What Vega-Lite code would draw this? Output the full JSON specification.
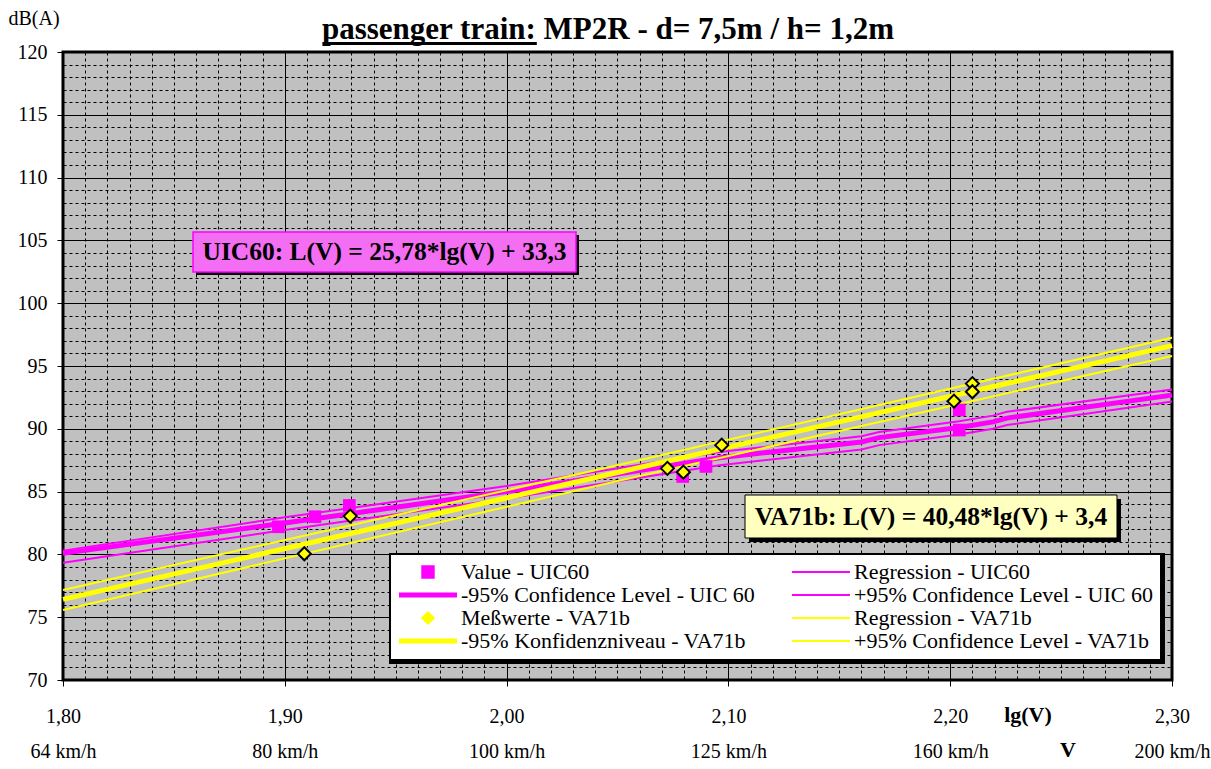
{
  "$schema": "https://vega.github.io/schema/vega-lite/v6.json",
  "width": 1109,
  "height": 628,
  "autosize": {"type": "none"},
  "padding": {"left": 63, "top": 52, "right": 39, "bottom": 89},
  "background": "white",
  "config": {
    "font": "Liberation Serif",
    "view": {"fill": "#C0C0C0", "stroke": "#000000", "strokeWidth": 3}
  },
  "datasets": {
    "uicValues": [
      {"series": "Value - UIC60", "lg": 1.8971, "db": 82.2},
      {"series": "Value - UIC60", "lg": 1.9136, "db": 83.0},
      {"series": "Value - UIC60", "lg": 1.9291, "db": 83.9},
      {"series": "Value - UIC60", "lg": 2.0794, "db": 86.2},
      {"series": "Value - UIC60", "lg": 2.0899, "db": 87.0},
      {"series": "Value - UIC60", "lg": 2.2041, "db": 91.5},
      {"series": "Value - UIC60", "lg": 2.2041, "db": 89.9}
    ],
    "vaValues": [
      {"series": "Meßwerte - VA71b", "lg": 1.9088, "db": 80.05},
      {"series": "Meßwerte - VA71b", "lg": 1.9295, "db": 83.05},
      {"series": "Meßwerte - VA71b", "lg": 2.0725, "db": 86.85},
      {"series": "Meßwerte - VA71b", "lg": 2.0797, "db": 86.55},
      {"series": "Meßwerte - VA71b", "lg": 2.097, "db": 88.7},
      {"series": "Meßwerte - VA71b", "lg": 2.2017, "db": 92.2},
      {"series": "Meßwerte - VA71b", "lg": 2.21, "db": 93.6},
      {"series": "Meßwerte - VA71b", "lg": 2.21, "db": 92.95}
    ],
    "uicThin": [
      {"series": "Regression - UIC60", "lg": 1.8, "db": 79.34},
      {"series": "Regression - UIC60", "lg": 1.9, "db": 81.95},
      {"series": "Regression - UIC60", "lg": 2.0, "db": 84.45},
      {"series": "Regression - UIC60", "lg": 2.096, "db": 87.1},
      {"series": "Regression - UIC60", "lg": 2.16, "db": 88.35},
      {"series": "Regression - UIC60", "lg": 2.168, "db": 88.7},
      {"series": "Regression - UIC60", "lg": 2.204, "db": 89.55},
      {"series": "Regression - UIC60", "lg": 2.2193, "db": 90.0},
      {"series": "Regression - UIC60", "lg": 2.2256, "db": 90.3},
      {"series": "Regression - UIC60", "lg": 2.3, "db": 92.18},
      {"series": "+95% Confidence Level - UIC 60", "lg": 1.8, "db": 80.3},
      {"series": "+95% Confidence Level - UIC 60", "lg": 1.9, "db": 82.95},
      {"series": "+95% Confidence Level - UIC 60", "lg": 2.0, "db": 85.45},
      {"series": "+95% Confidence Level - UIC 60", "lg": 2.096, "db": 88.15},
      {"series": "+95% Confidence Level - UIC 60", "lg": 2.16, "db": 89.4},
      {"series": "+95% Confidence Level - UIC 60", "lg": 2.168, "db": 89.75},
      {"series": "+95% Confidence Level - UIC 60", "lg": 2.204, "db": 90.6},
      {"series": "+95% Confidence Level - UIC 60", "lg": 2.2193, "db": 91.05},
      {"series": "+95% Confidence Level - UIC 60", "lg": 2.2256, "db": 91.35},
      {"series": "+95% Confidence Level - UIC 60", "lg": 2.3, "db": 93.12}
    ],
    "uicThick": [
      {"series": "-95% Confidence Level - UIC 60", "lg": 1.8, "db": 80.08},
      {"series": "-95% Confidence Level - UIC 60", "lg": 1.9, "db": 82.5},
      {"series": "-95% Confidence Level - UIC 60", "lg": 2.0, "db": 85.0},
      {"series": "-95% Confidence Level - UIC 60", "lg": 2.096, "db": 87.7},
      {"series": "-95% Confidence Level - UIC 60", "lg": 2.16, "db": 88.95},
      {"series": "-95% Confidence Level - UIC 60", "lg": 2.168, "db": 89.3},
      {"series": "-95% Confidence Level - UIC 60", "lg": 2.204, "db": 90.1},
      {"series": "-95% Confidence Level - UIC 60", "lg": 2.2193, "db": 90.55},
      {"series": "-95% Confidence Level - UIC 60", "lg": 2.2256, "db": 90.85},
      {"series": "-95% Confidence Level - UIC 60", "lg": 2.3, "db": 92.68}
    ],
    "vaThin": [
      {"series": "Regression - VA71b", "lg": 1.8, "db": 75.57},
      {"series": "Regression - VA71b", "lg": 2.05, "db": 85.85},
      {"series": "Regression - VA71b", "lg": 2.3, "db": 95.8},
      {"series": "+95% Confidence Level - VA71b", "lg": 1.8, "db": 77.17},
      {"series": "+95% Confidence Level - VA71b", "lg": 2.05, "db": 87.1},
      {"series": "+95% Confidence Level - VA71b", "lg": 2.3, "db": 97.25}
    ],
    "vaThick": [
      {"series": "-95% Konfidenzniveau - VA71b", "lg": 1.8, "db": 76.42},
      {"series": "-95% Konfidenzniveau - VA71b", "lg": 2.05, "db": 86.52},
      {"series": "-95% Konfidenzniveau - VA71b", "lg": 2.3, "db": 96.62}
    ]
  },
  "layer": [
    {
      "data": {"name": "uicThin"},
      "mark": {"type": "line", "strokeWidth": 2},
      "encoding": {
        "x": {
          "field": "lg", "type": "quantitative",
          "scale": {"domain": [1.8, 2.3], "nice": false, "zero": false},
          "axis": {
            "values": [1.8,1.81,1.82,1.83,1.84,1.85,1.86,1.87,1.88,1.89,1.9,1.91,1.92,1.93,1.94,1.95,1.96,1.97,1.98,1.99,2,2.01,2.02,2.03,2.04,2.05,2.06,2.07,2.08,2.09,2.1,2.11,2.12,2.13,2.14,2.15,2.16,2.17,2.18,2.19,2.2,2.21,2.22,2.23,2.24,2.25,2.26,2.27,2.28,2.29,2.3],
            "tickCount": 200,
            "title": null,
            "domain": false,
            "grid": true,
            "gridColor": "#000000",
            "gridWidth": 1,
            "gridDash": {"condition": {"test": "abs(datum.value*10 - round(datum.value*10)) < 0.001", "value": []}, "value": [3, 3]},
            "ticks": true,
            "tickSize": 6,
            "tickColor": "#000000",
            "tickOpacity": {"condition": {"test": "abs(datum.value*10 - round(datum.value*10)) < 0.001", "value": 1}, "value": 0},
            "labelExpr": "abs(datum.value*10 - round(datum.value*10)) < 0.001 ? [replace(format(datum.value, '.2f'), '.', ','), ['64 km/h', '80 km/h', '100 km/h', '125 km/h', '160 km/h', '200 km/h'][round(datum.value*10) - 18]] : ''",
            "labelFont": "Liberation Serif",
            "labelFontSize": 20,
            "labelColor": "#000000",
            "labelBaseline": "top",
            "labelLineHeight": 35,
            "labelPadding": 20,
            "labelOverlap": false,
            "labelFlush": false
          }
        },
        "y": {
          "field": "db", "type": "quantitative",
          "scale": {"domain": [70, 120], "nice": false, "zero": false},
          "axis": {
            "values": [70,71,72,73,74,75,76,77,78,79,80,81,82,83,84,85,86,87,88,89,90,91,92,93,94,95,96,97,98,99,100,101,102,103,104,105,106,107,108,109,110,111,112,113,114,115,116,117,118,119,120],
            "tickCount": 200,
            "title": "dB(A)",
            "titleAngle": 0,
            "titleX": -55,
            "titleY": -34,
            "titleAlign": "left",
            "titleBaseline": "middle",
            "titleFont": "Liberation Serif",
            "titleFontSize": 20,
            "titleFontWeight": "normal",
            "titleColor": "#000000",
            "domain": false,
            "grid": true,
            "gridColor": "#000000",
            "gridWidth": 1,
            "gridDash": {"condition": {"test": "datum.value % 5 === 0", "value": []}, "value": [3, 3]},
            "ticks": true,
            "tickSize": 6,
            "tickColor": "#000000",
            "tickOpacity": {"condition": {"test": "datum.value % 5 === 0", "value": 1}, "value": 0},
            "labelExpr": "datum.value % 5 === 0 ? format(datum.value, 'd') : ''",
            "labelFont": "Liberation Serif",
            "labelFontSize": 20,
            "labelColor": "#000000",
            "labelPadding": 10,
            "labelOverlap": false
          }
        },
        "color": {
          "field": "series", "type": "nominal",
          "scale": {
            "domain": ["Value - UIC60", "-95% Confidence Level - UIC 60", "Meßwerte - VA71b", "-95% Konfidenzniveau - VA71b", "Regression - UIC60", "+95% Confidence Level - UIC 60", "Regression - VA71b", "+95% Confidence Level - VA71b"],
            "range": ["#FF00FF", "#FF00FF", "#FFFF00", "#FFFF00", "#FF00FF", "#FF00FF", "#FFFF00", "#FFFF00"]
          },
          "legend": {
            "title": null,
            "orient": "none",
            "legendX": 327,
            "legendY": 502,
            "columns": 2,
            "columnPadding": 33,
            "rowPadding": 1,
            "symbolOffset": 20,
            "labelFont": "Liberation Serif",
            "labelFontSize": 22,
            "labelColor": "#000000",
            "labelLimit": 600,
            "labelOffset": 22,
            "fillColor": "#FFFFFF",
            "strokeColor": "#000000",
            "padding": 7,
            "encode": {
              "symbols": {
                "update": {
                  "shape": {"signal": "datum.index === 0 ? 'square' : datum.index === 2 ? 'diamond' : 'stroke'"},
                  "size": {"signal": "datum.index === 0 ? 130 : datum.index === 2 ? 130 : 3364"},
                  "strokeWidth": {"signal": "datum.index === 1 || datum.index === 3 ? 5 : 2"},
                  "fill": {"signal": "datum.index === 0 ? '#FF00FF' : datum.index === 2 ? '#FFFF00' : 'transparent'"},
                  "stroke": {"signal": "datum.index === 2 ? '#000000' : datum.index === 0 ? 'transparent' : (datum.index === 1 || datum.index === 4 || datum.index === 5) ? '#FF00FF' : '#FFFF00'"},
                  "opacity": {"value": 1}
                }
              }
            }
          }
        }
      }
    },
    {
      "data": {"name": "uicThick"},
      "mark": {"type": "line", "strokeWidth": 5},
      "encoding": {
        "x": {"field": "lg", "type": "quantitative"},
        "y": {"field": "db", "type": "quantitative"},
        "color": {"field": "series", "type": "nominal"}
      }
    },
    {
      "data": {"name": "vaThin"},
      "mark": {"type": "line", "strokeWidth": 2},
      "encoding": {
        "x": {"field": "lg", "type": "quantitative"},
        "y": {"field": "db", "type": "quantitative"},
        "color": {"field": "series", "type": "nominal"}
      }
    },
    {
      "data": {"name": "vaThick"},
      "mark": {"type": "line", "strokeWidth": 5},
      "encoding": {
        "x": {"field": "lg", "type": "quantitative"},
        "y": {"field": "db", "type": "quantitative"},
        "color": {"field": "series", "type": "nominal"}
      }
    },
    {
      "data": {"name": "uicValues"},
      "mark": {"type": "square", "size": 160, "filled": true, "opacity": 1},
      "encoding": {
        "x": {"field": "lg", "type": "quantitative"},
        "y": {"field": "db", "type": "quantitative"},
        "color": {"field": "series", "type": "nominal"}
      }
    },
    {
      "data": {"name": "vaValues"},
      "mark": {"type": "point", "shape": "diamond", "size": 170, "filled": true, "opacity": 1, "stroke": "#000000", "strokeWidth": 2},
      "encoding": {
        "x": {"field": "lg", "type": "quantitative"},
        "y": {"field": "db", "type": "quantitative"},
        "color": {"field": "series", "type": "nominal"}
      }
    },
    {
      "data": {"values": [{}]},
      "mark": {"type": "rect", "fill": "#000000"},
      "encoding": {
        "x": {"datum": 1.85996, "type": "quantitative"},
        "x2": {"datum": 2.03264},
        "y": {"datum": 105.43, "type": "quantitative"},
        "y2": {"datum": 102.245}
      }
    },
    {
      "data": {"values": [{}]},
      "mark": {"type": "rect", "fill": "#F36EF3", "stroke": "#FF00FF", "strokeWidth": 1.5},
      "encoding": {
        "x": {"datum": 1.85861, "type": "quantitative"},
        "x2": {"datum": 2.03129},
        "y": {"datum": 105.669, "type": "quantitative"},
        "y2": {"datum": 102.484}
      }
    },
    {
      "data": {"values": [{"note": "UIC60: L(V) = 25,78*lg(V) + 33,3"}]},
      "mark": {"type": "text", "font": "Liberation Serif", "fontSize": 25.5, "fontWeight": "bold", "color": "#000000", "align": "center", "baseline": "middle"},
      "encoding": {
        "x": {"datum": 1.94495, "type": "quantitative"},
        "y": {"datum": 104.076, "type": "quantitative"},
        "text": {"field": "note"}
      }
    },
    {
      "data": {"values": [{}]},
      "mark": {"type": "rect", "fill": "#000000"},
      "encoding": {
        "x": {"datum": 2.10929, "type": "quantitative"},
        "x2": {"datum": 2.277},
        "y": {"datum": 84.411, "type": "quantitative"},
        "y2": {"datum": 80.987}
      }
    },
    {
      "data": {"values": [{}]},
      "mark": {"type": "rect", "fill": "#FFFFC0", "stroke": "#000000", "strokeWidth": 1},
      "encoding": {
        "x": {"datum": 2.10749, "type": "quantitative"},
        "x2": {"datum": 2.2752},
        "y": {"datum": 84.729, "type": "quantitative"},
        "y2": {"datum": 81.306}
      }
    },
    {
      "data": {"values": [{"note": "VA71b: L(V) = 40,48*lg(V) + 3,4"}]},
      "mark": {"type": "text", "font": "Liberation Serif", "fontSize": 25.5, "fontWeight": "bold", "color": "#000000", "align": "center", "baseline": "middle"},
      "encoding": {
        "x": {"datum": 2.19134, "type": "quantitative"},
        "y": {"datum": 83.017, "type": "quantitative"},
        "text": {"field": "note"}
      }
    },
    {
      "data": {"values": [{}]},
      "mark": {"type": "rect", "fill": "#000000"},
      "encoding": {
        "x": {"datum": 1.94698, "type": "quantitative"},
        "x2": {"datum": 2.29684},
        "y": {"datum": 80.111, "type": "quantitative"},
        "y2": {"datum": 71.27}
      }
    },
    {
      "data": {"values": [{"note": "passenger train: MP2R - d= 7,5m / h= 1,2m"}]},
      "mark": {"type": "text", "font": "Liberation Serif", "fontSize": 31, "fontWeight": "bold", "color": "#000000", "align": "center", "baseline": "alphabetic"},
      "encoding": {
        "x": {"datum": 2.04572, "type": "quantitative"},
        "y": {"datum": 121.035, "type": "quantitative"},
        "text": {"field": "note"}
      }
    },
    {
      "data": {"values": [{}]},
      "mark": {"type": "rect", "fill": "#000000"},
      "encoding": {
        "x": {"datum": 1.91695, "type": "quantitative"},
        "x2": {"datum": 2.01362},
        "y": {"datum": 120.797, "type": "quantitative"},
        "y2": {"datum": 120.558}
      }
    },
    {
      "data": {"values": [{"note": "lg(V)"}]},
      "mark": {"type": "text", "font": "Liberation Serif", "fontSize": 22, "fontWeight": "bold", "color": "#000000", "align": "center", "baseline": "middle"},
      "encoding": {
        "x": {"datum": 2.23508, "type": "quantitative"},
        "y": {"datum": 67.213, "type": "quantitative"},
        "text": {"field": "note"}
      }
    },
    {
      "data": {"values": [{"note": "V"}]},
      "mark": {"type": "text", "font": "Liberation Serif", "fontSize": 22, "fontWeight": "bold", "color": "#000000", "align": "center", "baseline": "middle"},
      "encoding": {
        "x": {"datum": 2.25311, "type": "quantitative"},
        "y": {"datum": 64.427, "type": "quantitative"},
        "text": {"field": "note"}
      }
    }
  ]
}
